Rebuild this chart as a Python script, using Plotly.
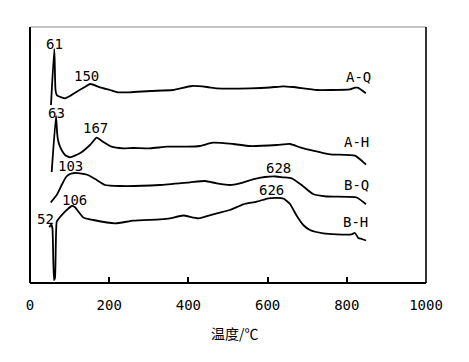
import plotly.graph_objects as go

# Temperature (°C) and relative signal for each curve
aq_t = [53, 61.4, 64.4, 67.4, 70.7, 88.4, 101, 118, 134, 152, 177, 202, 222, 252, 303, 361, 409, 447, 472, 556, 606, 639, 664, 724, 758, 808, 821, 828, 848]
aq_s = [178, 234, 193, 188, 187, 184.7, 187, 191.3, 195, 199, 195.7, 193, 190.7, 190.7, 192, 193, 197, 196, 194.7, 194.7, 195.5, 196.7, 196, 193, 193, 193.7, 195.3, 195.3, 189.7]

ah_t = [54.8, 65.7, 68.5, 70.7, 75.8, 88.4, 101, 126, 151.5, 168.4, 184, 206, 235, 260, 303, 346, 396.5, 429, 462, 512.6, 555.6, 623.7, 656.6, 682, 714.6, 758, 820.7, 848.5]
ah_s = [111, 167, 150, 143, 136.3, 128, 125.7, 129.7, 138, 145.3, 141.3, 136.3, 134.7, 135, 134.7, 136.3, 136.3, 137, 140.3, 139, 137, 138, 139, 135.7, 132.3, 128.7, 127.3, 118.3]

bq_t = [52.3, 67.4, 80, 91, 101, 113.6, 126, 146.5, 168.4, 189.4, 227, 328, 404, 442, 471.5, 505, 530, 563, 593, 621, 639, 661, 686, 714.6, 749, 825, 848.5]
bq_s = [80.5, 88, 98, 106, 109, 110, 109.7, 108, 103, 98, 97, 98, 100.7, 102, 99.7, 98, 99.7, 103.7, 106, 106.5, 105.7, 104.7, 98, 89, 86.5, 85.5, 78.7]

bh_t = [48.7, 54, 56.8, 60.6, 63, 67.4, 71.5, 88.4, 105.3, 113.6, 134.6, 160, 214.6, 260.8, 328, 353.5, 387, 425, 471.5, 505, 538.6, 572.5, 601.8, 623, 639.6, 656.6, 673.5, 690, 707, 740.7, 774.5, 812, 820.7, 829, 838, 848.5]
bh_s = [55.7, 58.5, 54, 3, 5, 61.3, 63.7, 71.3, 77, 75.7, 65.5, 63, 59.7, 62.3, 63.7, 64.7, 67.5, 64.7, 69.7, 73, 78.7, 81.3, 84.7, 85.2, 84.5, 79, 67.2, 58, 53, 49.7, 48.7, 48.7, 50, 45, 44, 42.5]

# Peak labels: (text, temperature, signal)
peak_labels = [("61", 61.4, 239), ("150", 142.7, 207), ("63", 66.4, 170), ("167", 166, 154.7),
               ("103", 101, 117), ("106", 113.6, 83), ("52", 39.6, 63.7),
               ("628", 627, 115.3), ("626", 610, 93)]
curve_labels = [("A-Q", 829, 205.7), ("A-H", 825, 141.3), ("B-Q", 825, 98), ("B-H", 823, 61.3)]

x_ticks = [0, 200, 400, 600, 800, 1000]
x_title = "温度/℃"

fig = go.Figure()
for t, s, name in [(aq_t, aq_s, "A-Q"), (ah_t, ah_s, "A-H"), (bq_t, bq_s, "B-Q"), (bh_t, bh_s, "B-H")]:
    fig.add_trace(go.Scatter(x=t, y=s, mode="lines", name=name,
                             line=dict(color="black", width=1.8, shape="spline", smoothing=0.5),
                             showlegend=False))

font = dict(family="DejaVu Sans Mono", size=14, color="black")
for txt, x, y in peak_labels + curve_labels:
    fig.add_annotation(x=x, y=y, text=txt, showarrow=False, font=font,
                       xanchor="center", yanchor="middle")

fig.add_annotation(x=0.518, y=-0.195, xref="paper", yref="paper", text=x_title,
                   showarrow=False, font=dict(family="Noto Sans CJK SC", size=14, color="black"),
                   xanchor="center", yanchor="middle")

# frame
fig.add_shape(type="line", xref="paper", yref="paper", x0=0, x1=1, y0=1, y1=1,
              line=dict(color="#888888", width=1))
fig.add_shape(type="line", xref="paper", yref="paper", x0=0, x1=0, y0=0, y1=1,
              line=dict(color="black", width=2))
fig.add_shape(type="line", xref="paper", yref="paper", x0=1, x1=1, y0=0, y1=1,
              line=dict(color="black", width=1.6))
fig.add_shape(type="line", xref="paper", yref="paper", x0=0, x1=1, y0=0, y1=0,
              line=dict(color="black", width=2))

# page body has an 8px margin, so the figure is sized/offset to compensate
fig.update_layout(
    width=461, height=354,
    margin=dict(l=22, r=43, t=19, b=79),
    paper_bgcolor="white", plot_bgcolor="white",
    xaxis=dict(range=[0, 1000], tickvals=x_ticks, ticktext=[str(v) for v in x_ticks],
               ticks="inside", ticklen=6, tickwidth=1.5, tickcolor="black",
               showgrid=False, zeroline=False, showline=False,
               tickfont=font, ticklabelstandoff=12),
    yaxis=dict(range=[0, 256], visible=False, showgrid=False, zeroline=False),
)

fig.write_html("out.html")
